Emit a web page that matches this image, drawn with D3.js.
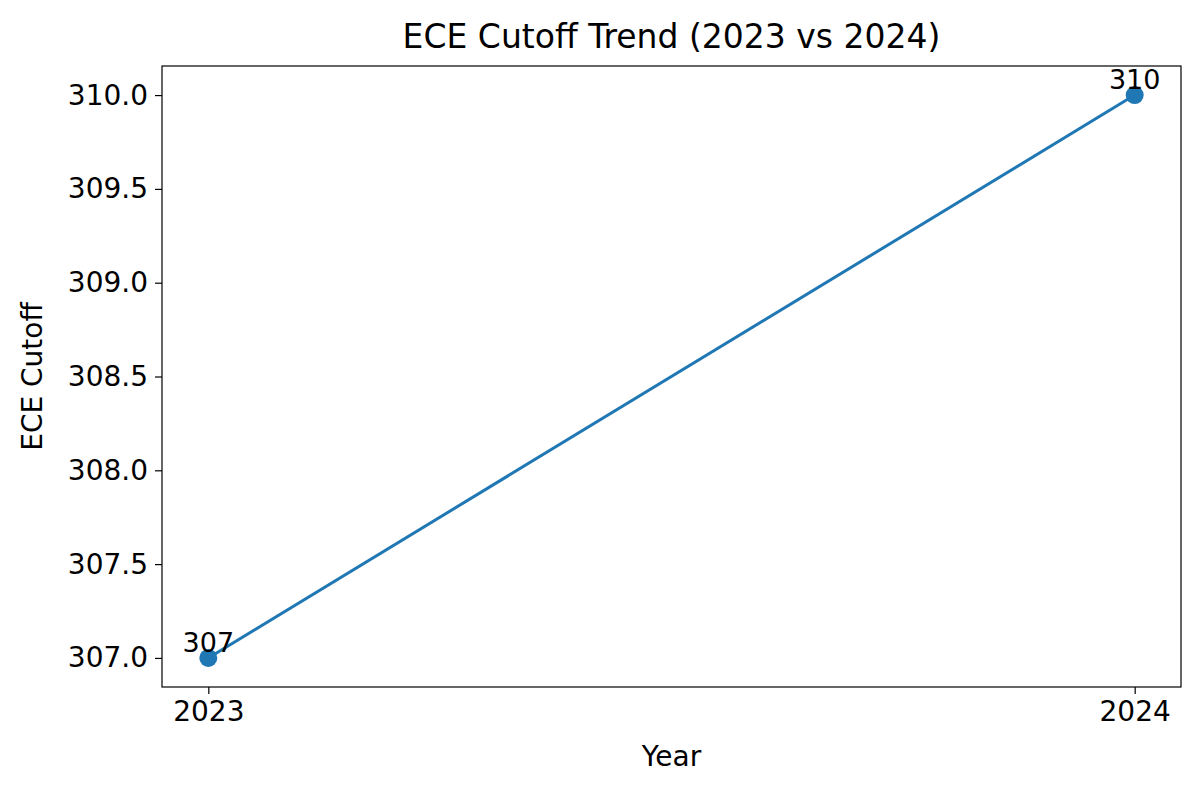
<!DOCTYPE html>
<html><head><meta charset="utf-8">
<script src="https://cdn.jsdelivr.net/npm/d3@7"></script>
<style>body{margin:0;background:#fff}text{font-family:"DejaVu Sans",sans-serif;fill:#000}</style>
</head><body><svg id="chart" width="1200" height="793"></svg>
<script>
// chart data
const years = [2023, 2024];
const cutoffs = [307, 310];
const yTicks = [307.0, 307.5, 308.0, 308.5, 309.0, 309.5, 310.0];

const svg = d3.select('#chart');
const m = {left: 162, right: 1181, top: 66, bottom: 687};

const x = d3.scaleLinear().domain([2022.95, 2024.05]).range([m.left, m.right]);
const y = d3.scaleLinear().domain([306.845, 310.155]).range([m.bottom, m.top]);

const xAxis = svg.append('g').attr('transform', `translate(0,${m.bottom})`)
    .call(d3.axisBottom(x).tickValues(years).tickFormat(d3.format('d')).tickSizeOuter(0).tickSize(7).tickPadding(7));
const yAxis = svg.append('g').attr('transform', `translate(${m.left},0)`)
    .call(d3.axisLeft(y).tickValues(yTicks).tickFormat(d3.format('.1f')).tickSizeOuter(0).tickSize(7).tickPadding(7));
[xAxis, yAxis].forEach(a => {
    a.select('.domain').remove();
    a.selectAll('text').style('font-size', '28px').attr('font-family', 'DejaVu Sans');
    a.selectAll('line').attr('stroke-width', 1.2);
});

svg.append('rect').attr('x', m.left).attr('y', m.top)
    .attr('width', m.right - m.left).attr('height', m.bottom - m.top)
    .attr('fill', 'none').attr('stroke', '#000').attr('stroke-width', 1.2);

const pts = years.map((yr, i) => [yr, cutoffs[i]]);
svg.append('path').datum(pts)
    .attr('d', d3.line().x(d => x(d[0])).y(d => y(d[1])))
    .attr('fill', 'none').attr('stroke', '#1f77b4').attr('stroke-width', 3);
svg.selectAll('circle.pt').data(pts).enter().append('circle')
    .attr('cx', d => x(d[0])).attr('cy', d => y(d[1])).attr('r', 9).attr('fill', '#1f77b4');
svg.selectAll('text.lbl').data(pts).enter().append('text')
    .attr('x', d => x(d[0])).attr('y', d => y(d[1]) - 6)
    .attr('text-anchor', 'middle').style('font-size', '27px').text(d => d[1]);

svg.append('text').attr('x', (m.left + m.right) / 2).attr('y', 48)
    .attr('text-anchor', 'middle').style('font-size', '33px').text('ECE Cutoff Trend (2023 vs 2024)');
svg.append('text').attr('x', (m.left + m.right) / 2).attr('y', 766)
    .attr('text-anchor', 'middle').style('font-size', '28px').text('Year');
svg.append('text').attr('transform', `translate(42,${(m.top + m.bottom) / 2}) rotate(-90)`)
    .attr('text-anchor', 'middle').style('font-size', '28px').text('ECE Cutoff');
</script></body></html>
